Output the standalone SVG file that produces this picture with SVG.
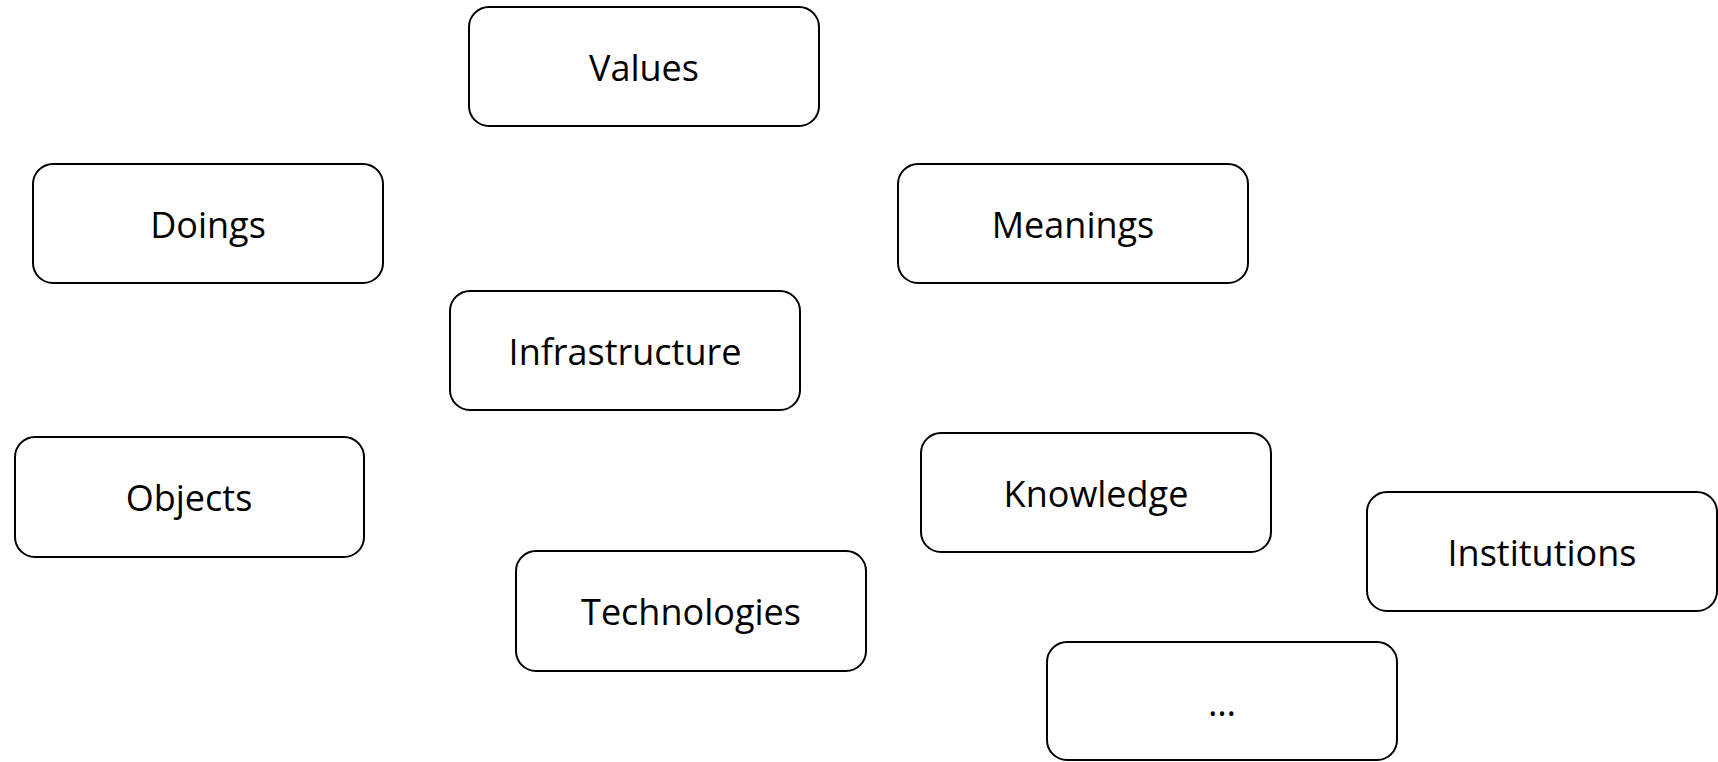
<svg xmlns="http://www.w3.org/2000/svg" width="1718" height="762" viewBox="0 0 1718 762">
<style>
.box{fill:#fff;stroke:#000;stroke-width:2}
text{font-family:"Open Sans","Liberation Sans",sans-serif;font-size:36px;fill:#000;text-anchor:middle}
</style>
<rect x="0" y="0" width="1718" height="762" style="fill:#fff;stroke:none"/>
<g id="connectors"></g>
<g id="values"><rect class="box" x="469" y="7" width="350" height="119" rx="20"/><text x="644" y="81">Values</text></g>
<g id="doings"><rect class="box" x="33" y="164" width="350" height="119" rx="20"/><text x="208" y="238">Doings</text></g>
<g id="meanings"><rect class="box" x="898" y="164" width="350" height="119" rx="20"/><text x="1073" y="238">Meanings</text></g>
<g id="infrastructure"><rect class="box" x="450" y="291" width="350" height="119" rx="20"/><text x="625" y="365">Infrastructure</text></g>
<g id="objects"><rect class="box" x="15" y="437" width="349" height="120" rx="20"/><text x="189" y="511">Objects</text></g>
<g id="knowledge"><rect class="box" x="921" y="433" width="350" height="119" rx="20"/><text x="1096" y="507">Knowledge</text></g>
<g id="institutions"><rect class="box" x="1367" y="492" width="350" height="119" rx="20"/><text x="1542" y="566">Institutions</text></g>
<g id="technologies"><rect class="box" x="516" y="551" width="350" height="120" rx="20"/><text x="691" y="625">Technologies</text></g>
<g id="more"><rect class="box" x="1047" y="642" width="350" height="118" rx="20"/><text x="1222" y="716">…</text></g>
</svg>
